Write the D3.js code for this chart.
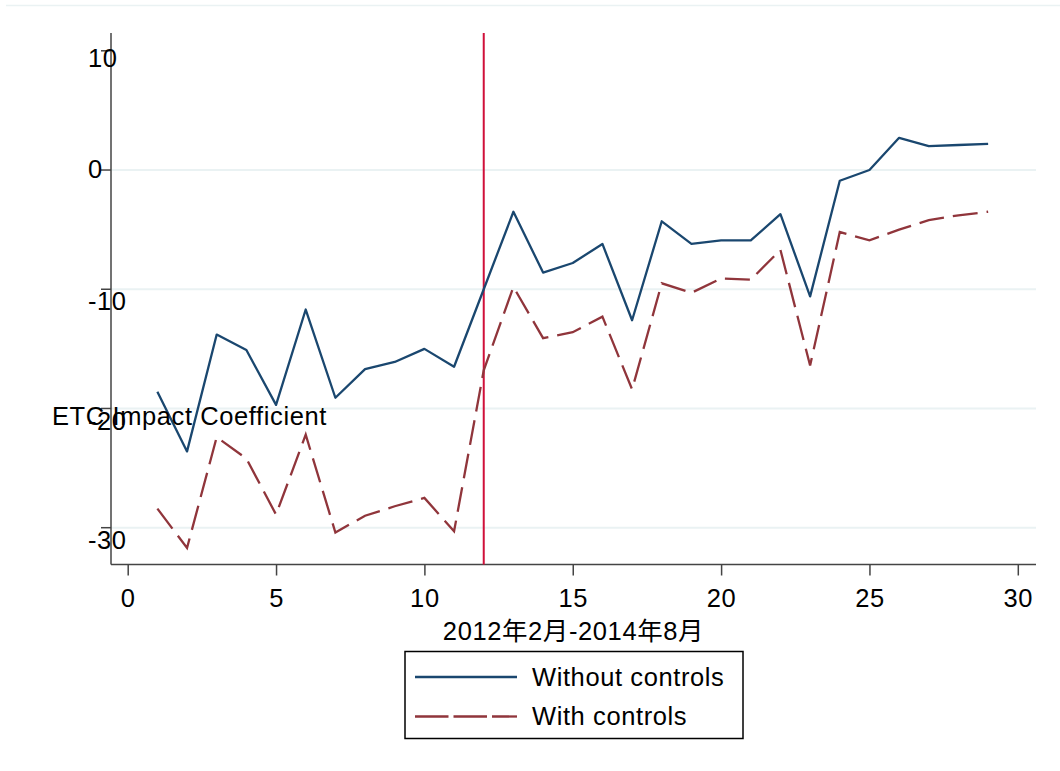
<!DOCTYPE html>
<html>
<head>
<meta charset="utf-8">
<script src="https://cdn.jsdelivr.net/npm/d3@7"></script>
<style>
  body{margin:0;background:#fff;}
  svg text{font-family:"Liberation Sans",Arial,"Noto Sans CJK SC",sans-serif;font-size:25.5px;letter-spacing:0.6px;fill:#000;}
</style>
</head>
<body>
<script>
// periods 1..29 (2012-02 .. 2014-08)
const periods=[1,2,3,4,5,6,7,8,9,10,11,12,13,14,15,16,17,18,19,20,21,22,23,24,25,26,27,28,29];
const withoutControls=[-18.6,-23.6,-13.8,-15.1,-19.7,-11.7,-19.1,-16.7,-16.1,-15.0,-16.5,-10.0,-3.5,
  -8.6,-7.8,-6.2,-12.6,-4.3,-6.2,-5.9,-5.9,-3.7,-10.6,-0.9,0.0,2.7,2.0,2.1,2.2];
const withControls=[-28.4,-31.7,-22.4,-24.2,-28.9,-22.2,-30.4,-29.0,-28.2,-27.5,-30.3,-16.8,-9.8,
  -14.1,-13.6,-12.3,-18.4,-9.5,-10.3,-9.1,-9.2,-6.7,-16.4,-5.2,-5.9,-5.0,-4.2,-3.8,-3.5];
const treatmentPeriod=12;
const xTicks=[0,5,10,15,20,25,30];
const yTicks=[10,0,-10,-20,-30];
const yGrid=[0,-10,-20,-30];
const seriesNames=["Without controls","With controls"];
const xTitle="2012年2月-2014年8月";
const yTitle="ETC Impact Coefficient";

const W=1060,H=771;
const pLeft=111,pRight=1036,pTop=33,pBottom=564.5;
const blue="#1a476f",maroon="#90353b",vline="#d0103a",grid="#eaf2f3",axisCol="#444";

let x=d3.scaleLinear().domain([0,30]).range([127.7,1017.8]);
let y=d3.scaleLinear().domain([-30,10]).range([527.7,50.8]);

let svg=d3.select("body").append("svg").attr("width",W).attr("height",H);

// faint outer line at top
svg.append("line").attr("x1",6).attr("x2",W).attr("y1",5.5).attr("y2",5.5)
    .attr("stroke",grid).attr("stroke-width",1.5);

svg.append("g").selectAll("line").data(yGrid).enter().append("line")
    .attr("x1",pLeft).attr("x2",pRight)
    .attr("y1",d=>y(d)).attr("y2",d=>y(d))
    .attr("stroke",grid).attr("stroke-width",2);

// axes
let xAxis=svg.append("g").attr("transform","translate(0,"+pBottom+")")
    .call(d3.axisBottom(x).tickValues(xTicks).tickSize(11).tickPadding(13));
xAxis.select(".domain").remove();
xAxis.selectAll("line").attr("stroke",axisCol).attr("stroke-width",1.5);
xAxis.attr("font-size",null).attr("font-family",null);

svg.append("line").attr("x1",pLeft).attr("x2",pRight).attr("y1",pBottom).attr("y2",pBottom)
    .attr("stroke",axisCol).attr("stroke-width",1.5);
svg.append("line").attr("x1",pLeft).attr("x2",pLeft).attr("y1",pTop).attr("y2",pBottom)
    .attr("stroke",axisCol).attr("stroke-width",1.5);

let yNudge={"10":7,"0":-1,"-10":12,"-20":13,"-30":12};
svg.append("g").selectAll("line").data(yTicks).enter().append("line")
    .attr("x1",pLeft-10).attr("x2",pLeft)
    .attr("y1",d=>y(d)).attr("y2",d=>y(d))
    .attr("stroke",axisCol).attr("stroke-width",1.5);

// treatment line
svg.append("line").attr("x1",x(treatmentPeriod)).attr("x2",x(treatmentPeriod))
    .attr("y1",pTop).attr("y2",pBottom)
    .attr("stroke",vline).attr("stroke-width",2);

let line=d3.line().x((d,i)=>x(periods[i])).y(d=>y(d));
svg.append("path").datum(withoutControls).attr("d",line)
    .attr("fill","none").attr("stroke",blue).attr("stroke-width",2.3).attr("stroke-linejoin","round");
svg.append("path").datum(withControls).attr("d",line)
    .attr("fill","none").attr("stroke",maroon).attr("stroke-width",2.3)
    .attr("stroke-dasharray","25,9");

// y tick labels (drawn over the lines, as in the source)
svg.append("g").selectAll("text").data(yTicks).enter().append("text")
    .attr("x",88).attr("y",d=>y(d)+yNudge[d]+9)
    .text(d=>d);

svg.append("text").attr("x",52).attr("y",425).text(yTitle);
svg.append("text").attr("x",(pLeft+pRight)/2).attr("y",640)
    .attr("text-anchor","middle").text(xTitle);

// legend
let lg=svg.append("g");
lg.append("rect").attr("x",405).attr("y",651.5).attr("width",338).attr("height",87)
    .attr("fill","#fff").attr("stroke","#000").attr("stroke-width",1.5);
let rows=[{name:seriesNames[0],c:blue,dash:null,y:677},{name:seriesNames[1],c:maroon,dash:"33.5,5",y:716.5}];
rows.forEach(r=>{
  lg.append("line").attr("x1",415).attr("x2",517).attr("y1",r.y).attr("y2",r.y)
    .attr("stroke",r.c).attr("stroke-width",2.3).attr("stroke-dasharray",r.dash);
  lg.append("text").attr("x",532).attr("y",r.y+8.5).text(r.name);
});
</script>
</body>
</html>
